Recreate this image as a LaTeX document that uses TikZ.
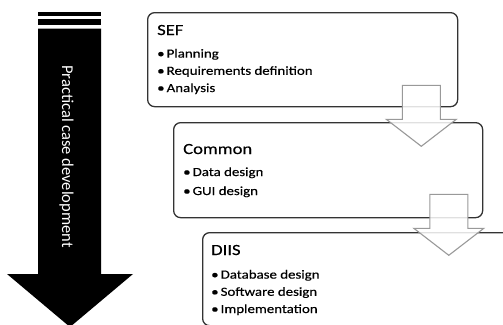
\documentclass[tikz,border=0pt]{standalone}
\usepackage{fontspec}
\setmainfont{Carlito}
\newfontfamily\boxfont[FakeStretch=1.2, FakeBold=0.4]{Carlito}
\usetikzlibrary{positioning, calc}
\def\boxRadius{7pt}
\def\titleSize{\fontsize{15.5}{18}\selectfont}
\def\itemSize{\fontsize{12.4}{17.2}\selectfont}
\newcommand{\StageStyles}{
  \tikzset{
    stagebox/.style={
      rectangle,
      rounded corners=\boxRadius,
      draw=black!80,
      line width=1.3pt,
      fill=white,
      anchor=north west,
      inner sep=0pt
    },
    stagetitle/.style={anchor=base west, inner sep=0pt, font=\boxfont\titleSize},
    % base west of a multi-line node sits on its last line
    stageitems/.style={anchor=base west, inner sep=0pt, align=left, font=\boxfont\itemSize},
    blockarrow/.style={draw=black!40, line width=1.1pt, fill=white, fill opacity=0.85},
    phasetext/.style={rotate=-90, text=white, inner sep=0pt, font=\fontsize{16.5}{18}\selectfont}
  }
}
% hollow down arrow hanging from a top-centre coordinate
\newcommand{\DownBlock}[1]{
  \draw[blockarrow] ($(#1)+(-19,0)$) -- ($(#1)+(19,0)$) -- ($(#1)+(19,34)$)
    -- ($(#1)+(35,34)$) -- ($(#1)+(0,61)$) -- ($(#1)+(-35,34)$)
    -- ($(#1)+(-19,34)$) -- cycle;
}

\begin{document}
\begin{tikzpicture}[x=1pt, y=-1pt]
  \StageStyles
  \useasboundingbox (0,0) rectangle (503,324);
  \clip (0,0) rectangle (503,324);

  % big striped arrow on the left
  \fill[black] (38,12) rectangle (101,16);
  \fill[black] (38,18.7) rectangle (101,25.3);
  \fill[black] (38,28.7) -- (101,28.7) -- (101,274) -- (133,274) -- (70,327)
    -- (7,274) -- (38,274) -- cycle;
  \node[phasetext] (phase) at (66.5,156.5) {Practical case development};

  % stage boxes
  \node[stagebox, minimum width=310, minimum height=94] (sef) at (147,12) {};
  \node[stagebox, minimum width=309, minimum height=95] (common) at (173,122) {};
  \node[stagebox, minimum width=320, minimum height=93] (diis) at (202,232) {};

  \node[stagetitle] (sefT) at ($(sef.north west)+(10,23)$) {SEF};
  \node[stageitems] (sefL) at ($(sef.north west)+(10,80)$)
    {\textbullet\,Planning\\ \textbullet\,Requirements definition\\ \textbullet\,Analysis};

  \node[stagetitle] (commonT) at ($(common.north west)+(10,32)$) {Common};
  \node[stageitems] (commonL) at ($(common.north west)+(10,73)$)
    {\textbullet\,Data design\\[1.8pt] \textbullet\,GUI design};

  \node[stagetitle] (diisT) at ($(diis.north west)+(9,23)$) {DIIS};
  \node[stageitems] (diisL) at ($(diis.north west)+(9,81)$)
    {\textbullet\,Database design\\ \textbullet\,Software design\\ \textbullet\,Implementation};

  % hand-over arrows between stages
  \coordinate (step1) at ($(sef.south east)+(-37,-22)$);
  \coordinate (step2) at ($(common.south east)+(-34.5,-24)$);
  \DownBlock{step1}
  \DownBlock{step2}
\end{tikzpicture}
\end{document}
